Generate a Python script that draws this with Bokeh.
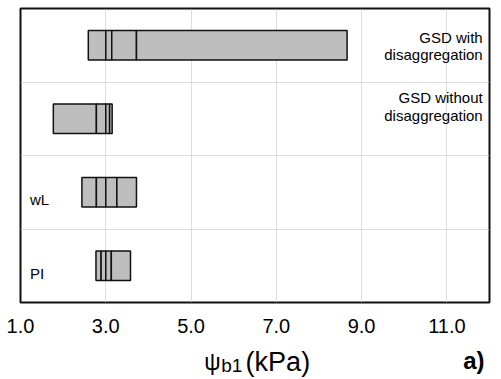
from bokeh.plotting import figure
from bokeh.models import Range1d, FixedTicker, NumeralTickFormatter, Label
from bokeh.layouts import column
from bokeh.embed import file_html
from bokeh.resources import INLINE

# ---- data ----
categories = ["GSD with\ndisaggregation", "GSD without\ndisaggregation", "wL", "PI"]
row_pos = [3.5, 2.5, 1.5, 0.5]
# segment boundaries of each box (kPa)
bounds_gsd_with = [2.59, 3.00, 3.14, 3.72, 8.66]
bounds_gsd_without = [1.77, 2.78, 3.00, 3.09, 3.15]
bounds_wl = [2.44, 2.78, 3.00, 3.26, 3.72]
bounds_pi = [2.77, 2.89, 3.00, 3.13, 3.58]
x_ticks = [1.0, 3.0, 5.0, 7.0, 9.0, 11.0]
x_title_main = "\u03c8"
x_title_sub = "b1"
x_title_unit = "(kPa)"
panel_tag = "a)"

all_bounds = [bounds_gsd_with, bounds_gsd_without, bounds_wl, bounds_pi]

FONT = "Liberation Sans"
TXT = "#000000"

p = figure(width=500, height=342, output_backend="svg", toolbar_location=None,
           x_range=Range1d(1, 12), y_range=Range1d(0, 4),
           min_border_left=20, min_border_right=11, min_border_top=8,
           min_border_bottom=40)
p.background_fill_color = "white"
p.border_fill_color = "white"
p.outline_line_color = "#111111"
p.outline_line_width = 2

# grids
p.xgrid.ticker = FixedTicker(ticks=x_ticks)
p.ygrid.ticker = FixedTicker(ticks=[1, 2, 3])
for g in (p.xgrid, p.ygrid):
    g.grid_line_color = "#bcbcbc"
    g.grid_line_dash = "1 1"
    g.grid_line_width = 1

# axes
p.yaxis.visible = False
xa = p.xaxis[0]
xa.ticker = FixedTicker(ticks=x_ticks)
xa.formatter = NumeralTickFormatter(format="0.0")
xa.axis_line_color = None
xa.major_tick_line_color = None
xa.minor_tick_line_color = None
xa.major_tick_out = 0
xa.major_tick_in = 0
xa.major_label_standoff = 16
xa.major_label_text_font = FONT
xa.major_label_text_font_size = "20px"
xa.major_label_text_color = TXT

# bars: one rectangle per segment
ys, lefts, rights = [], [], []
for y, b in zip(row_pos, all_bounds):
    for i in range(len(b) - 1):
        ys.append(y)
        lefts.append(b[i])
        rights.append(b[i + 1])
p.hbar(y=ys, left=lefts, right=rights, height=0.4,
       fill_color="#bebebe", line_color="#111111", line_width=1.5)


def add_text(fig, x, y, txt, align, size="15px", style="normal"):
    fig.add_layout(Label(x=x, y=y, text=txt, text_align=align,
                         text_baseline="alphabetic", text_font=FONT,
                         text_font_size=size, text_color=TXT,
                         text_font_style=style))

# category labels
gsd_label_y = [(3.61, 3.374), (2.789, 2.551)]
for (y1, y2), cat in zip(gsd_label_y, categories[:2]):
    l1, l2 = cat.split("\n")
    add_text(p, 11.84, y1, l1, "right")
    add_text(p, 11.84, y2, l2, "right")

add_text(p, 1.22, 1.405, categories[2], "left")
add_text(p, 1.22, 0.399, categories[3], "left")

# strip below the chart for the axis title and the panel tag
# (its ranges are page pixels: x from the left, y from the top)
q = figure(width=500, height=36, output_backend="svg", toolbar_location=None,
           x_range=Range1d(0, 500), y_range=Range1d(378, 342),
           min_border=0, min_border_left=0, min_border_right=0,
           min_border_top=0, min_border_bottom=0)
q.axis.visible = False
q.grid.visible = False
q.outline_line_color = None
q.background_fill_color = "white"
q.border_fill_color = "white"

add_text(q, 196, 361, x_title_main, "left", size="23px")
add_text(q, 214, 365, x_title_sub, "left", size="19px")
add_text(q, 240, 361, x_title_unit, "left", size="27px")
add_text(q, 472, 360, panel_tag, "left", size="24px", style="bold")

layout = column(p, q, spacing=0)
open("out.html", "w").write(file_html(layout, INLINE))
